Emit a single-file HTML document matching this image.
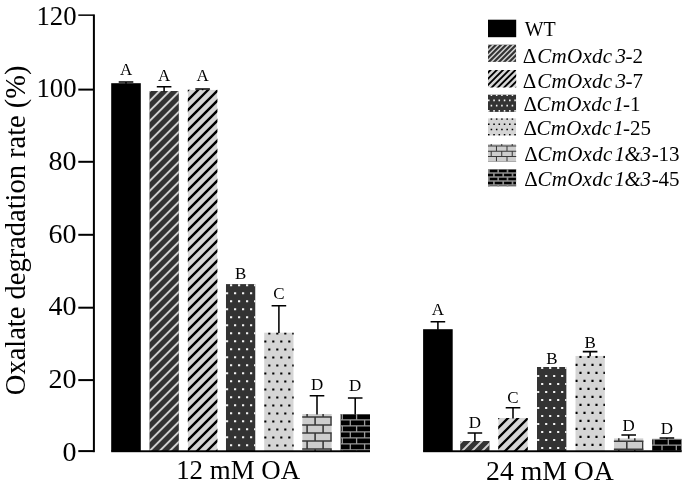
<!DOCTYPE html>
<html lang="en"><head><meta charset="utf-8"><title>Oxalate degradation rate</title>
<style>html,body{margin:0;padding:0;background:#fff}svg{display:block}text{font-family:'Liberation Serif', 'DejaVu Serif', serif;fill:#000}</style>
</head><body>
<svg width="683" height="485" viewBox="0 0 683 485">
<rect width="683" height="485" fill="#fff"/>
<rect x="111.2" y="83.2" width="29.6" height="368.1" fill="#000"/>
<path d="M126 83.7V82M118.7 82H133.3" stroke="#000" stroke-width="1.55" fill="none"/>
<text transform="translate(126 75.4) scale(0.97 1)" font-size="17.5" text-anchor="middle">A</text>
<clipPath id="c1"><rect x="149.30" y="91.00" width="29.60" height="360.30"/></clipPath>
<g clip-path="url(#c1)"><rect x="149.3" y="91" width="29.6" height="360.3" fill="#333333"/>
<path d="M147.3 83.3L180.9 49.7M147.3 93.3L180.9 59.7M147.3 103.3L180.9 69.7M147.3 113.3L180.9 79.7M147.3 123.3L180.9 89.7M147.3 133.3L180.9 99.7M147.3 143.3L180.9 109.7M147.3 153.3L180.9 119.7M147.3 163.3L180.9 129.7M147.3 173.3L180.9 139.7M147.3 183.3L180.9 149.7M147.3 193.3L180.9 159.7M147.3 203.3L180.9 169.7M147.3 213.3L180.9 179.7M147.3 223.3L180.9 189.7M147.3 233.3L180.9 199.7M147.3 243.3L180.9 209.7M147.3 253.3L180.9 219.7M147.3 263.3L180.9 229.7M147.3 273.3L180.9 239.7M147.3 283.3L180.9 249.7M147.3 293.3L180.9 259.7M147.3 303.3L180.9 269.7M147.3 313.3L180.9 279.7M147.3 323.3L180.9 289.7M147.3 333.3L180.9 299.7M147.3 343.3L180.9 309.7M147.3 353.3L180.9 319.7M147.3 363.3L180.9 329.7M147.3 373.3L180.9 339.7M147.3 383.3L180.9 349.7M147.3 393.3L180.9 359.7M147.3 403.3L180.9 369.7M147.3 413.3L180.9 379.7M147.3 423.3L180.9 389.7M147.3 433.3L180.9 399.7M147.3 443.3L180.9 409.7M147.3 453.3L180.9 419.7M147.3 463.3L180.9 429.7M147.3 473.3L180.9 439.7M147.3 483.3L180.9 449.7" stroke="#cfcfcf" stroke-width="2" fill="none"/></g>
<path d="M164.1 91.5V86.7M156.8 86.7H171.4" stroke="#000" stroke-width="1.55" fill="none"/>
<text transform="translate(164.1 81.4) scale(0.97 1)" font-size="17.5" text-anchor="middle">A</text>
<clipPath id="c2"><rect x="187.80" y="89.80" width="29.60" height="361.50"/></clipPath>
<g clip-path="url(#c2)"><rect x="187.8" y="89.8" width="29.6" height="361.5" fill="#d5d5d5"/>
<path d="M185.8 82.2L219.4 48.6M185.8 92.2L219.4 58.6M185.8 102.2L219.4 68.6M185.8 112.2L219.4 78.6M185.8 122.2L219.4 88.6M185.8 132.2L219.4 98.6M185.8 142.2L219.4 108.6M185.8 152.2L219.4 118.6M185.8 162.2L219.4 128.6M185.8 172.2L219.4 138.6M185.8 182.2L219.4 148.6M185.8 192.2L219.4 158.6M185.8 202.2L219.4 168.6M185.8 212.2L219.4 178.6M185.8 222.2L219.4 188.6M185.8 232.2L219.4 198.6M185.8 242.2L219.4 208.6M185.8 252.2L219.4 218.6M185.8 262.2L219.4 228.6M185.8 272.2L219.4 238.6M185.8 282.2L219.4 248.6M185.8 292.2L219.4 258.6M185.8 302.2L219.4 268.6M185.8 312.2L219.4 278.6M185.8 322.2L219.4 288.6M185.8 332.2L219.4 298.6M185.8 342.2L219.4 308.6M185.8 352.2L219.4 318.6M185.8 362.2L219.4 328.6M185.8 372.2L219.4 338.6M185.8 382.2L219.4 348.6M185.8 392.2L219.4 358.6M185.8 402.2L219.4 368.6M185.8 412.2L219.4 378.6M185.8 422.2L219.4 388.6M185.8 432.2L219.4 398.6M185.8 442.2L219.4 408.6M185.8 452.2L219.4 418.6M185.8 462.2L219.4 428.6M185.8 472.2L219.4 438.6M185.8 482.2L219.4 448.6M185.8 492.2L219.4 458.6" stroke="#000" stroke-width="2.3" fill="none"/></g>
<path d="M202.6 90.3V89M195.3 89H209.9" stroke="#000" stroke-width="1.55" fill="none"/>
<text transform="translate(202.6 81.4) scale(0.97 1)" font-size="17.5" text-anchor="middle">A</text>
<clipPath id="c3"><rect x="225.90" y="284.10" width="29.60" height="167.20"/></clipPath>
<g clip-path="url(#c3)"><rect x="225.9" y="284.1" width="29.6" height="167.2" fill="#333333"/>
<path d="M222.03 284.13h2.15v2.15h-2.15zM230.03 284.13h2.15v2.15h-2.15zM238.03 284.13h2.15v2.15h-2.15zM246.03 284.13h2.15v2.15h-2.15zM254.03 284.13h2.15v2.15h-2.15zM262.03 284.13h2.15v2.15h-2.15zM218.03 292.13h2.15v2.15h-2.15zM226.03 292.13h2.15v2.15h-2.15zM234.03 292.13h2.15v2.15h-2.15zM242.03 292.13h2.15v2.15h-2.15zM250.03 292.13h2.15v2.15h-2.15zM258.03 292.13h2.15v2.15h-2.15zM222.03 300.13h2.15v2.15h-2.15zM230.03 300.13h2.15v2.15h-2.15zM238.03 300.13h2.15v2.15h-2.15zM246.03 300.13h2.15v2.15h-2.15zM254.03 300.13h2.15v2.15h-2.15zM262.03 300.13h2.15v2.15h-2.15zM218.03 308.13h2.15v2.15h-2.15zM226.03 308.13h2.15v2.15h-2.15zM234.03 308.13h2.15v2.15h-2.15zM242.03 308.13h2.15v2.15h-2.15zM250.03 308.13h2.15v2.15h-2.15zM258.03 308.13h2.15v2.15h-2.15zM222.03 316.13h2.15v2.15h-2.15zM230.03 316.13h2.15v2.15h-2.15zM238.03 316.13h2.15v2.15h-2.15zM246.03 316.13h2.15v2.15h-2.15zM254.03 316.13h2.15v2.15h-2.15zM262.03 316.13h2.15v2.15h-2.15zM218.03 324.13h2.15v2.15h-2.15zM226.03 324.13h2.15v2.15h-2.15zM234.03 324.13h2.15v2.15h-2.15zM242.03 324.13h2.15v2.15h-2.15zM250.03 324.13h2.15v2.15h-2.15zM258.03 324.13h2.15v2.15h-2.15zM222.03 332.13h2.15v2.15h-2.15zM230.03 332.13h2.15v2.15h-2.15zM238.03 332.13h2.15v2.15h-2.15zM246.03 332.13h2.15v2.15h-2.15zM254.03 332.13h2.15v2.15h-2.15zM262.03 332.13h2.15v2.15h-2.15zM218.03 340.13h2.15v2.15h-2.15zM226.03 340.13h2.15v2.15h-2.15zM234.03 340.13h2.15v2.15h-2.15zM242.03 340.13h2.15v2.15h-2.15zM250.03 340.13h2.15v2.15h-2.15zM258.03 340.13h2.15v2.15h-2.15zM222.03 348.13h2.15v2.15h-2.15zM230.03 348.13h2.15v2.15h-2.15zM238.03 348.13h2.15v2.15h-2.15zM246.03 348.13h2.15v2.15h-2.15zM254.03 348.13h2.15v2.15h-2.15zM262.03 348.13h2.15v2.15h-2.15zM218.03 356.13h2.15v2.15h-2.15zM226.03 356.13h2.15v2.15h-2.15zM234.03 356.13h2.15v2.15h-2.15zM242.03 356.13h2.15v2.15h-2.15zM250.03 356.13h2.15v2.15h-2.15zM258.03 356.13h2.15v2.15h-2.15zM222.03 364.13h2.15v2.15h-2.15zM230.03 364.13h2.15v2.15h-2.15zM238.03 364.13h2.15v2.15h-2.15zM246.03 364.13h2.15v2.15h-2.15zM254.03 364.13h2.15v2.15h-2.15zM262.03 364.13h2.15v2.15h-2.15zM218.03 372.13h2.15v2.15h-2.15zM226.03 372.13h2.15v2.15h-2.15zM234.03 372.13h2.15v2.15h-2.15zM242.03 372.13h2.15v2.15h-2.15zM250.03 372.13h2.15v2.15h-2.15zM258.03 372.13h2.15v2.15h-2.15zM222.03 380.13h2.15v2.15h-2.15zM230.03 380.13h2.15v2.15h-2.15zM238.03 380.13h2.15v2.15h-2.15zM246.03 380.13h2.15v2.15h-2.15zM254.03 380.13h2.15v2.15h-2.15zM262.03 380.13h2.15v2.15h-2.15zM218.03 388.13h2.15v2.15h-2.15zM226.03 388.13h2.15v2.15h-2.15zM234.03 388.13h2.15v2.15h-2.15zM242.03 388.13h2.15v2.15h-2.15zM250.03 388.13h2.15v2.15h-2.15zM258.03 388.13h2.15v2.15h-2.15zM222.03 396.13h2.15v2.15h-2.15zM230.03 396.13h2.15v2.15h-2.15zM238.03 396.13h2.15v2.15h-2.15zM246.03 396.13h2.15v2.15h-2.15zM254.03 396.13h2.15v2.15h-2.15zM262.03 396.13h2.15v2.15h-2.15zM218.03 404.13h2.15v2.15h-2.15zM226.03 404.13h2.15v2.15h-2.15zM234.03 404.13h2.15v2.15h-2.15zM242.03 404.13h2.15v2.15h-2.15zM250.03 404.13h2.15v2.15h-2.15zM258.03 404.13h2.15v2.15h-2.15zM222.03 412.13h2.15v2.15h-2.15zM230.03 412.13h2.15v2.15h-2.15zM238.03 412.13h2.15v2.15h-2.15zM246.03 412.13h2.15v2.15h-2.15zM254.03 412.13h2.15v2.15h-2.15zM262.03 412.13h2.15v2.15h-2.15zM218.03 420.13h2.15v2.15h-2.15zM226.03 420.13h2.15v2.15h-2.15zM234.03 420.13h2.15v2.15h-2.15zM242.03 420.13h2.15v2.15h-2.15zM250.03 420.13h2.15v2.15h-2.15zM258.03 420.13h2.15v2.15h-2.15zM222.03 428.13h2.15v2.15h-2.15zM230.03 428.13h2.15v2.15h-2.15zM238.03 428.13h2.15v2.15h-2.15zM246.03 428.13h2.15v2.15h-2.15zM254.03 428.13h2.15v2.15h-2.15zM262.03 428.13h2.15v2.15h-2.15zM218.03 436.13h2.15v2.15h-2.15zM226.03 436.13h2.15v2.15h-2.15zM234.03 436.13h2.15v2.15h-2.15zM242.03 436.13h2.15v2.15h-2.15zM250.03 436.13h2.15v2.15h-2.15zM258.03 436.13h2.15v2.15h-2.15zM222.03 444.13h2.15v2.15h-2.15zM230.03 444.13h2.15v2.15h-2.15zM238.03 444.13h2.15v2.15h-2.15zM246.03 444.13h2.15v2.15h-2.15zM254.03 444.13h2.15v2.15h-2.15zM262.03 444.13h2.15v2.15h-2.15zM218.03 452.13h2.15v2.15h-2.15zM226.03 452.13h2.15v2.15h-2.15zM234.03 452.13h2.15v2.15h-2.15zM242.03 452.13h2.15v2.15h-2.15zM250.03 452.13h2.15v2.15h-2.15zM258.03 452.13h2.15v2.15h-2.15z" fill="#f4f4f4"/></g>
<text transform="translate(240.7 278.5) scale(0.97 1)" font-size="17.5" text-anchor="middle">B</text>
<clipPath id="c4"><rect x="264.10" y="332.40" width="29.60" height="118.90"/></clipPath>
<g clip-path="url(#c4)"><rect x="264.1" y="332.4" width="29.6" height="118.9" fill="#d5d5d5"/>
<path d="M260.23 332.43h2.15v2.15h-2.15zM268.23 332.43h2.15v2.15h-2.15zM276.23 332.43h2.15v2.15h-2.15zM284.23 332.43h2.15v2.15h-2.15zM292.23 332.43h2.15v2.15h-2.15zM300.23 332.43h2.15v2.15h-2.15zM256.23 340.43h2.15v2.15h-2.15zM264.23 340.43h2.15v2.15h-2.15zM272.23 340.43h2.15v2.15h-2.15zM280.23 340.43h2.15v2.15h-2.15zM288.23 340.43h2.15v2.15h-2.15zM296.23 340.43h2.15v2.15h-2.15zM260.23 348.43h2.15v2.15h-2.15zM268.23 348.43h2.15v2.15h-2.15zM276.23 348.43h2.15v2.15h-2.15zM284.23 348.43h2.15v2.15h-2.15zM292.23 348.43h2.15v2.15h-2.15zM300.23 348.43h2.15v2.15h-2.15zM256.23 356.43h2.15v2.15h-2.15zM264.23 356.43h2.15v2.15h-2.15zM272.23 356.43h2.15v2.15h-2.15zM280.23 356.43h2.15v2.15h-2.15zM288.23 356.43h2.15v2.15h-2.15zM296.23 356.43h2.15v2.15h-2.15zM260.23 364.43h2.15v2.15h-2.15zM268.23 364.43h2.15v2.15h-2.15zM276.23 364.43h2.15v2.15h-2.15zM284.23 364.43h2.15v2.15h-2.15zM292.23 364.43h2.15v2.15h-2.15zM300.23 364.43h2.15v2.15h-2.15zM256.23 372.43h2.15v2.15h-2.15zM264.23 372.43h2.15v2.15h-2.15zM272.23 372.43h2.15v2.15h-2.15zM280.23 372.43h2.15v2.15h-2.15zM288.23 372.43h2.15v2.15h-2.15zM296.23 372.43h2.15v2.15h-2.15zM260.23 380.43h2.15v2.15h-2.15zM268.23 380.43h2.15v2.15h-2.15zM276.23 380.43h2.15v2.15h-2.15zM284.23 380.43h2.15v2.15h-2.15zM292.23 380.43h2.15v2.15h-2.15zM300.23 380.43h2.15v2.15h-2.15zM256.23 388.43h2.15v2.15h-2.15zM264.23 388.43h2.15v2.15h-2.15zM272.23 388.43h2.15v2.15h-2.15zM280.23 388.43h2.15v2.15h-2.15zM288.23 388.43h2.15v2.15h-2.15zM296.23 388.43h2.15v2.15h-2.15zM260.23 396.43h2.15v2.15h-2.15zM268.23 396.43h2.15v2.15h-2.15zM276.23 396.43h2.15v2.15h-2.15zM284.23 396.43h2.15v2.15h-2.15zM292.23 396.43h2.15v2.15h-2.15zM300.23 396.43h2.15v2.15h-2.15zM256.23 404.43h2.15v2.15h-2.15zM264.23 404.43h2.15v2.15h-2.15zM272.23 404.43h2.15v2.15h-2.15zM280.23 404.43h2.15v2.15h-2.15zM288.23 404.43h2.15v2.15h-2.15zM296.23 404.43h2.15v2.15h-2.15zM260.23 412.43h2.15v2.15h-2.15zM268.23 412.43h2.15v2.15h-2.15zM276.23 412.43h2.15v2.15h-2.15zM284.23 412.43h2.15v2.15h-2.15zM292.23 412.43h2.15v2.15h-2.15zM300.23 412.43h2.15v2.15h-2.15zM256.23 420.43h2.15v2.15h-2.15zM264.23 420.43h2.15v2.15h-2.15zM272.23 420.43h2.15v2.15h-2.15zM280.23 420.43h2.15v2.15h-2.15zM288.23 420.43h2.15v2.15h-2.15zM296.23 420.43h2.15v2.15h-2.15zM260.23 428.43h2.15v2.15h-2.15zM268.23 428.43h2.15v2.15h-2.15zM276.23 428.43h2.15v2.15h-2.15zM284.23 428.43h2.15v2.15h-2.15zM292.23 428.43h2.15v2.15h-2.15zM300.23 428.43h2.15v2.15h-2.15zM256.23 436.43h2.15v2.15h-2.15zM264.23 436.43h2.15v2.15h-2.15zM272.23 436.43h2.15v2.15h-2.15zM280.23 436.43h2.15v2.15h-2.15zM288.23 436.43h2.15v2.15h-2.15zM296.23 436.43h2.15v2.15h-2.15zM260.23 444.43h2.15v2.15h-2.15zM268.23 444.43h2.15v2.15h-2.15zM276.23 444.43h2.15v2.15h-2.15zM284.23 444.43h2.15v2.15h-2.15zM292.23 444.43h2.15v2.15h-2.15zM300.23 444.43h2.15v2.15h-2.15zM256.23 452.43h2.15v2.15h-2.15zM264.23 452.43h2.15v2.15h-2.15zM272.23 452.43h2.15v2.15h-2.15zM280.23 452.43h2.15v2.15h-2.15zM288.23 452.43h2.15v2.15h-2.15zM296.23 452.43h2.15v2.15h-2.15z" fill="#000"/></g>
<path d="M278.9 332.9V305.7M271.6 305.7H286.2" stroke="#000" stroke-width="1.55" fill="none"/>
<text transform="translate(278.9 299) scale(0.97 1)" font-size="17.5" text-anchor="middle">C</text>
<clipPath id="c5"><rect x="302.20" y="414.00" width="29.60" height="37.30"/></clipPath>
<g clip-path="url(#c5)"><rect x="302.2" y="414" width="29.6" height="37.3" fill="#cdcdcd"/>
<path d="M301.2 409H332.8M291.1 409V417M307.1 409V417M323.1 409V417M339.1 409V417M301.2 417H332.8M299.1 417V425M315.1 417V425M331.1 417V425M347.1 417V425M301.2 425H332.8M291.1 425V433M307.1 425V433M323.1 425V433M339.1 425V433M301.2 433H332.8M299.1 433V441M315.1 433V441M331.1 433V441M347.1 433V441M301.2 441H332.8M291.1 441V449M307.1 441V449M323.1 441V449M339.1 441V449M301.2 449H332.8M299.1 449V457M315.1 449V457M331.1 449V457M347.1 449V457M301.2 457H332.8M291.1 457V465M307.1 457V465M323.1 457V465M339.1 457V465" stroke="#3a3a3a" stroke-width="1.6" fill="none"/></g>
<path d="M317 414.5V395.8M309.7 395.8H324.3" stroke="#000" stroke-width="1.55" fill="none"/>
<text transform="translate(317 389.6) scale(0.97 1)" font-size="17.5" text-anchor="middle">D</text>
<clipPath id="c6"><rect x="340.40" y="414.00" width="29.60" height="37.30"/></clipPath>
<g clip-path="url(#c6)"><rect x="340.4" y="414" width="29.6" height="37.3" fill="#000"/>
<path d="M339.4 413.9H371M328 413.9V419.9M342.3 413.9V419.9M356.6 413.9V419.9M370.9 413.9V419.9M339.4 419.9H371M336 419.9V425.9M350.3 419.9V425.9M364.6 419.9V425.9M378.9 419.9V425.9M339.4 425.9H371M328 425.9V431.9M342.3 425.9V431.9M356.6 425.9V431.9M370.9 425.9V431.9M339.4 431.9H371M336 431.9V437.9M350.3 431.9V437.9M364.6 431.9V437.9M378.9 431.9V437.9M339.4 437.9H371M328 437.9V443.9M342.3 437.9V443.9M356.6 437.9V443.9M370.9 437.9V443.9M339.4 443.9H371M336 443.9V449.9M350.3 443.9V449.9M364.6 443.9V449.9M378.9 443.9V449.9M339.4 449.9H371M328 449.9V455.9M342.3 449.9V455.9M356.6 449.9V455.9M370.9 449.9V455.9M339.4 455.9H371M336 455.9V461.9M350.3 455.9V461.9M364.6 455.9V461.9M378.9 455.9V461.9" stroke="#999999" stroke-width="1.3" fill="none"/></g>
<path d="M355.2 414.5V397.9M347.9 397.9H362.5" stroke="#000" stroke-width="1.55" fill="none"/>
<text transform="translate(355.2 391.1) scale(0.97 1)" font-size="17.5" text-anchor="middle">D</text>
<rect x="111.2" y="450.3" width="258.8" height="1.9" fill="#000"/>
<rect x="423.1" y="329.2" width="29.6" height="122.1" fill="#000"/>
<path d="M437.9 329.7V321.7M430.6 321.7H445.2" stroke="#000" stroke-width="1.55" fill="none"/>
<text transform="translate(437.9 315.4) scale(0.97 1)" font-size="17.5" text-anchor="middle">A</text>
<clipPath id="c7"><rect x="460.10" y="441.00" width="29.60" height="10.30"/></clipPath>
<g clip-path="url(#c7)"><rect x="460.1" y="441" width="29.6" height="10.3" fill="#333333"/>
<path d="M458.1 435L491.7 401.4M458.1 445L491.7 411.4M458.1 455L491.7 421.4M458.1 465L491.7 431.4M458.1 475L491.7 441.4M458.1 485L491.7 451.4" stroke="#cfcfcf" stroke-width="2" fill="none"/></g>
<path d="M474.9 441.5V432.9M467.6 432.9H482.2" stroke="#000" stroke-width="1.55" fill="none"/>
<text transform="translate(474.9 427.9) scale(0.97 1)" font-size="17.5" text-anchor="middle">D</text>
<clipPath id="c8"><rect x="498.20" y="418.00" width="29.60" height="33.30"/></clipPath>
<g clip-path="url(#c8)"><rect x="498.2" y="418" width="29.6" height="33.3" fill="#d5d5d5"/>
<path d="M496.2 419.9L529.8 386.3M496.2 429.9L529.8 396.3M496.2 439.9L529.8 406.3M496.2 449.9L529.8 416.3M496.2 459.9L529.8 426.3M496.2 469.9L529.8 436.3M496.2 479.9L529.8 446.3M496.2 489.9L529.8 456.3" stroke="#000" stroke-width="2.3" fill="none"/></g>
<path d="M513 418.5V407.8M505.7 407.8H520.3" stroke="#000" stroke-width="1.55" fill="none"/>
<text transform="translate(513 403.2) scale(0.97 1)" font-size="17.5" text-anchor="middle">C</text>
<clipPath id="c9"><rect x="537.00" y="366.90" width="29.60" height="84.40"/></clipPath>
<g clip-path="url(#c9)"><rect x="537" y="366.9" width="29.6" height="84.4" fill="#333333"/>
<path d="M533.12 366.93h2.15v2.15h-2.15zM541.12 366.93h2.15v2.15h-2.15zM549.12 366.93h2.15v2.15h-2.15zM557.12 366.93h2.15v2.15h-2.15zM565.12 366.93h2.15v2.15h-2.15zM573.12 366.93h2.15v2.15h-2.15zM529.12 374.93h2.15v2.15h-2.15zM537.12 374.93h2.15v2.15h-2.15zM545.12 374.93h2.15v2.15h-2.15zM553.12 374.93h2.15v2.15h-2.15zM561.12 374.93h2.15v2.15h-2.15zM569.12 374.93h2.15v2.15h-2.15zM533.12 382.93h2.15v2.15h-2.15zM541.12 382.93h2.15v2.15h-2.15zM549.12 382.93h2.15v2.15h-2.15zM557.12 382.93h2.15v2.15h-2.15zM565.12 382.93h2.15v2.15h-2.15zM573.12 382.93h2.15v2.15h-2.15zM529.12 390.93h2.15v2.15h-2.15zM537.12 390.93h2.15v2.15h-2.15zM545.12 390.93h2.15v2.15h-2.15zM553.12 390.93h2.15v2.15h-2.15zM561.12 390.93h2.15v2.15h-2.15zM569.12 390.93h2.15v2.15h-2.15zM533.12 398.93h2.15v2.15h-2.15zM541.12 398.93h2.15v2.15h-2.15zM549.12 398.93h2.15v2.15h-2.15zM557.12 398.93h2.15v2.15h-2.15zM565.12 398.93h2.15v2.15h-2.15zM573.12 398.93h2.15v2.15h-2.15zM529.12 406.93h2.15v2.15h-2.15zM537.12 406.93h2.15v2.15h-2.15zM545.12 406.93h2.15v2.15h-2.15zM553.12 406.93h2.15v2.15h-2.15zM561.12 406.93h2.15v2.15h-2.15zM569.12 406.93h2.15v2.15h-2.15zM533.12 414.93h2.15v2.15h-2.15zM541.12 414.93h2.15v2.15h-2.15zM549.12 414.93h2.15v2.15h-2.15zM557.12 414.93h2.15v2.15h-2.15zM565.12 414.93h2.15v2.15h-2.15zM573.12 414.93h2.15v2.15h-2.15zM529.12 422.93h2.15v2.15h-2.15zM537.12 422.93h2.15v2.15h-2.15zM545.12 422.93h2.15v2.15h-2.15zM553.12 422.93h2.15v2.15h-2.15zM561.12 422.93h2.15v2.15h-2.15zM569.12 422.93h2.15v2.15h-2.15zM533.12 430.93h2.15v2.15h-2.15zM541.12 430.93h2.15v2.15h-2.15zM549.12 430.93h2.15v2.15h-2.15zM557.12 430.93h2.15v2.15h-2.15zM565.12 430.93h2.15v2.15h-2.15zM573.12 430.93h2.15v2.15h-2.15zM529.12 438.93h2.15v2.15h-2.15zM537.12 438.93h2.15v2.15h-2.15zM545.12 438.93h2.15v2.15h-2.15zM553.12 438.93h2.15v2.15h-2.15zM561.12 438.93h2.15v2.15h-2.15zM569.12 438.93h2.15v2.15h-2.15zM533.12 446.93h2.15v2.15h-2.15zM541.12 446.93h2.15v2.15h-2.15zM549.12 446.93h2.15v2.15h-2.15zM557.12 446.93h2.15v2.15h-2.15zM565.12 446.93h2.15v2.15h-2.15zM573.12 446.93h2.15v2.15h-2.15zM529.12 454.93h2.15v2.15h-2.15zM537.12 454.93h2.15v2.15h-2.15zM545.12 454.93h2.15v2.15h-2.15zM553.12 454.93h2.15v2.15h-2.15zM561.12 454.93h2.15v2.15h-2.15zM569.12 454.93h2.15v2.15h-2.15z" fill="#f4f4f4"/></g>
<text transform="translate(551.8 363.6) scale(0.97 1)" font-size="17.5" text-anchor="middle">B</text>
<clipPath id="c10"><rect x="575.30" y="355.80" width="29.60" height="95.50"/></clipPath>
<g clip-path="url(#c10)"><rect x="575.3" y="355.8" width="29.6" height="95.5" fill="#d5d5d5"/>
<path d="M571.42 355.83h2.15v2.15h-2.15zM579.42 355.83h2.15v2.15h-2.15zM587.42 355.83h2.15v2.15h-2.15zM595.42 355.83h2.15v2.15h-2.15zM603.42 355.83h2.15v2.15h-2.15zM611.42 355.83h2.15v2.15h-2.15zM567.42 363.83h2.15v2.15h-2.15zM575.42 363.83h2.15v2.15h-2.15zM583.42 363.83h2.15v2.15h-2.15zM591.42 363.83h2.15v2.15h-2.15zM599.42 363.83h2.15v2.15h-2.15zM607.42 363.83h2.15v2.15h-2.15zM571.42 371.83h2.15v2.15h-2.15zM579.42 371.83h2.15v2.15h-2.15zM587.42 371.83h2.15v2.15h-2.15zM595.42 371.83h2.15v2.15h-2.15zM603.42 371.83h2.15v2.15h-2.15zM611.42 371.83h2.15v2.15h-2.15zM567.42 379.83h2.15v2.15h-2.15zM575.42 379.83h2.15v2.15h-2.15zM583.42 379.83h2.15v2.15h-2.15zM591.42 379.83h2.15v2.15h-2.15zM599.42 379.83h2.15v2.15h-2.15zM607.42 379.83h2.15v2.15h-2.15zM571.42 387.83h2.15v2.15h-2.15zM579.42 387.83h2.15v2.15h-2.15zM587.42 387.83h2.15v2.15h-2.15zM595.42 387.83h2.15v2.15h-2.15zM603.42 387.83h2.15v2.15h-2.15zM611.42 387.83h2.15v2.15h-2.15zM567.42 395.83h2.15v2.15h-2.15zM575.42 395.83h2.15v2.15h-2.15zM583.42 395.83h2.15v2.15h-2.15zM591.42 395.83h2.15v2.15h-2.15zM599.42 395.83h2.15v2.15h-2.15zM607.42 395.83h2.15v2.15h-2.15zM571.42 403.83h2.15v2.15h-2.15zM579.42 403.83h2.15v2.15h-2.15zM587.42 403.83h2.15v2.15h-2.15zM595.42 403.83h2.15v2.15h-2.15zM603.42 403.83h2.15v2.15h-2.15zM611.42 403.83h2.15v2.15h-2.15zM567.42 411.83h2.15v2.15h-2.15zM575.42 411.83h2.15v2.15h-2.15zM583.42 411.83h2.15v2.15h-2.15zM591.42 411.83h2.15v2.15h-2.15zM599.42 411.83h2.15v2.15h-2.15zM607.42 411.83h2.15v2.15h-2.15zM571.42 419.83h2.15v2.15h-2.15zM579.42 419.83h2.15v2.15h-2.15zM587.42 419.83h2.15v2.15h-2.15zM595.42 419.83h2.15v2.15h-2.15zM603.42 419.83h2.15v2.15h-2.15zM611.42 419.83h2.15v2.15h-2.15zM567.42 427.83h2.15v2.15h-2.15zM575.42 427.83h2.15v2.15h-2.15zM583.42 427.83h2.15v2.15h-2.15zM591.42 427.83h2.15v2.15h-2.15zM599.42 427.83h2.15v2.15h-2.15zM607.42 427.83h2.15v2.15h-2.15zM571.42 435.83h2.15v2.15h-2.15zM579.42 435.83h2.15v2.15h-2.15zM587.42 435.83h2.15v2.15h-2.15zM595.42 435.83h2.15v2.15h-2.15zM603.42 435.83h2.15v2.15h-2.15zM611.42 435.83h2.15v2.15h-2.15zM567.42 443.83h2.15v2.15h-2.15zM575.42 443.83h2.15v2.15h-2.15zM583.42 443.83h2.15v2.15h-2.15zM591.42 443.83h2.15v2.15h-2.15zM599.42 443.83h2.15v2.15h-2.15zM607.42 443.83h2.15v2.15h-2.15zM571.42 451.83h2.15v2.15h-2.15zM579.42 451.83h2.15v2.15h-2.15zM587.42 451.83h2.15v2.15h-2.15zM595.42 451.83h2.15v2.15h-2.15zM603.42 451.83h2.15v2.15h-2.15zM611.42 451.83h2.15v2.15h-2.15z" fill="#000"/></g>
<path d="M590.1 356.3V351.6M582.8 351.6H597.4" stroke="#000" stroke-width="1.55" fill="none"/>
<text transform="translate(590.1 347.5) scale(0.97 1)" font-size="17.5" text-anchor="middle">B</text>
<clipPath id="c11"><rect x="613.90" y="438.20" width="29.60" height="13.10"/></clipPath>
<g clip-path="url(#c11)"><rect x="613.9" y="438.2" width="29.6" height="13.1" fill="#cdcdcd"/>
<path d="M612.9 433.2H644.5M602.8 433.2V441.2M618.8 433.2V441.2M634.8 433.2V441.2M650.8 433.2V441.2M612.9 441.2H644.5M610.8 441.2V449.2M626.8 441.2V449.2M642.8 441.2V449.2M658.8 441.2V449.2M612.9 449.2H644.5M602.8 449.2V457.2M618.8 449.2V457.2M634.8 449.2V457.2M650.8 449.2V457.2M612.9 457.2H644.5M610.8 457.2V465.2M626.8 457.2V465.2M642.8 457.2V465.2M658.8 457.2V465.2" stroke="#3a3a3a" stroke-width="1.6" fill="none"/></g>
<path d="M628.7 438.7V434.9M621.4 434.9H636" stroke="#000" stroke-width="1.55" fill="none"/>
<text transform="translate(628.7 431) scale(0.97 1)" font-size="17.5" text-anchor="middle">D</text>
<clipPath id="c12"><rect x="652.10" y="438.80" width="29.60" height="12.50"/></clipPath>
<g clip-path="url(#c12)"><rect x="652.1" y="438.8" width="29.6" height="12.5" fill="#000"/>
<path d="M651.1 439.2H682.7M639.7 439.2V445.2M654 439.2V445.2M668.3 439.2V445.2M682.6 439.2V445.2M651.1 445.2H682.7M647.7 445.2V451.2M662 445.2V451.2M676.3 445.2V451.2M690.6 445.2V451.2M651.1 451.2H682.7M639.7 451.2V457.2M654 451.2V457.2M668.3 451.2V457.2M682.6 451.2V457.2M651.1 457.2H682.7M647.7 457.2V463.2M662 457.2V463.2M676.3 457.2V463.2M690.6 457.2V463.2" stroke="#999999" stroke-width="1.3" fill="none"/></g>
<path d="M666.9 439.3V437.9M659.6 437.9H674.2" stroke="#000" stroke-width="1.55" fill="none"/>
<text transform="translate(666.9 434.1) scale(0.97 1)" font-size="17.5" text-anchor="middle">D</text>
<rect x="423.1" y="450.3" width="258.6" height="1.9" fill="#000"/>
<rect x="92.9" y="14.4" width="2" height="437.8" fill="#000"/>
<rect x="78.3" y="14.4" width="15" height="1.5" fill="#000"/>
<text transform="translate(76.6 25.1) scale(0.956 1)" font-size="28" text-anchor="end">120</text>
<rect x="78.3" y="88.6" width="15" height="2" fill="#000"/>
<text transform="translate(76.6 97.35) scale(0.956 1)" font-size="28" text-anchor="end">100</text>
<rect x="78.3" y="160.8" width="15" height="2" fill="#000"/>
<text transform="translate(76.6 169.9)" font-size="28" text-anchor="end">80</text>
<rect x="78.3" y="233.8" width="15" height="2" fill="#000"/>
<text transform="translate(76.6 242.5)" font-size="28" text-anchor="end">60</text>
<rect x="78.3" y="306.7" width="15" height="2" fill="#000"/>
<text transform="translate(76.6 315.1)" font-size="28" text-anchor="end">40</text>
<rect x="78.3" y="379.1" width="15" height="2" fill="#000"/>
<text transform="translate(76.6 387.8)" font-size="28" text-anchor="end">20</text>
<rect x="78.3" y="450.1" width="15" height="2" fill="#000"/>
<text transform="translate(76.6 460.5)" font-size="28" text-anchor="end">0</text>
<text transform="translate(25.3 230.3) rotate(-90) scale(1 1.01)" font-size="28.5" text-anchor="middle">Oxalate degradation rate (%)</text>
<text transform="translate(238.1 479.4) scale(0.96 1)" font-size="28" text-anchor="middle">12 mM OA</text>
<text transform="translate(549.95 480.2) scale(0.99 1)" font-size="28" text-anchor="middle">24 mM OA</text>
<rect x="488" y="19.7" width="28.2" height="17.5" fill="#000"/>
<text transform="translate(524.8 35.7) scale(0.95 1)" font-size="21">WT</text>
<clipPath id="c13"><rect x="488.00" y="44.40" width="28.20" height="17.50"/></clipPath>
<g clip-path="url(#c13)"><rect x="488" y="44.4" width="28.2" height="17.5" fill="#333333"/>
<path d="M486 41.9L518.2 9.7M486 47L518.2 14.8M486 52.1L518.2 19.9M486 57.2L518.2 25M486 62.3L518.2 30.1M486 67.4L518.2 35.2M486 72.5L518.2 40.3M486 77.6L518.2 45.4M486 82.7L518.2 50.5M486 87.8L518.2 55.6M486 92.9L518.2 60.7" stroke="#cfcfcf" stroke-width="1.5" fill="none"/></g>
<text transform="translate(522.8 63.4)" font-size="21">Δ<tspan font-style="italic" dx="1.0" letter-spacing="0.25">CmOxdc</tspan><tspan font-style="italic" dx="3.3">3</tspan><tspan dx="-0.5">-2</tspan></text>
<clipPath id="c14"><rect x="488.00" y="70.00" width="28.20" height="17.50"/></clipPath>
<g clip-path="url(#c14)"><rect x="488" y="70" width="28.2" height="17.5" fill="#d5d5d5"/>
<path d="M486 68.4L518.2 36.2M486 74.6L518.2 42.4M486 80.8L518.2 48.6M486 87L518.2 54.8M486 93.2L518.2 61M486 99.4L518.2 67.2M486 105.6L518.2 73.4M486 111.8L518.2 79.6M486 118L518.2 85.8" stroke="#000" stroke-width="1.85" fill="none"/></g>
<text transform="translate(522.8 87.7)" font-size="21">Δ<tspan font-style="italic" dx="1.0" letter-spacing="0.25">CmOxdc</tspan><tspan font-style="italic" dx="3.3">3</tspan><tspan dx="-0.5">-7</tspan></text>
<clipPath id="c15"><rect x="488.00" y="94.40" width="28.20" height="17.50"/></clipPath>
<g clip-path="url(#c15)"><rect x="488" y="94.4" width="28.2" height="17.5" fill="#333333"/>
<path d="M485.38 94.35h1.55v1.55h-1.55zM490.64 94.35h1.55v1.55h-1.55zM495.9 94.35h1.55v1.55h-1.55zM501.15 94.35h1.55v1.55h-1.55zM506.41 94.35h1.55v1.55h-1.55zM511.66 94.35h1.55v1.55h-1.55zM516.92 94.35h1.55v1.55h-1.55zM482.76 99.6h1.55v1.55h-1.55zM488.01 99.6h1.55v1.55h-1.55zM493.27 99.6h1.55v1.55h-1.55zM498.52 99.6h1.55v1.55h-1.55zM503.78 99.6h1.55v1.55h-1.55zM509.04 99.6h1.55v1.55h-1.55zM514.29 99.6h1.55v1.55h-1.55zM519.55 99.6h1.55v1.55h-1.55zM485.38 104.86h1.55v1.55h-1.55zM490.64 104.86h1.55v1.55h-1.55zM495.9 104.86h1.55v1.55h-1.55zM501.15 104.86h1.55v1.55h-1.55zM506.41 104.86h1.55v1.55h-1.55zM511.66 104.86h1.55v1.55h-1.55zM516.92 104.86h1.55v1.55h-1.55zM482.76 110.11h1.55v1.55h-1.55zM488.01 110.11h1.55v1.55h-1.55zM493.27 110.11h1.55v1.55h-1.55zM498.52 110.11h1.55v1.55h-1.55zM503.78 110.11h1.55v1.55h-1.55zM509.04 110.11h1.55v1.55h-1.55zM514.29 110.11h1.55v1.55h-1.55zM519.55 110.11h1.55v1.55h-1.55zM485.38 115.37h1.55v1.55h-1.55zM490.64 115.37h1.55v1.55h-1.55zM495.9 115.37h1.55v1.55h-1.55zM501.15 115.37h1.55v1.55h-1.55zM506.41 115.37h1.55v1.55h-1.55zM511.66 115.37h1.55v1.55h-1.55zM516.92 115.37h1.55v1.55h-1.55z" fill="#f4f4f4"/></g>
<text transform="translate(523.6 110.8)" font-size="21">Δ<tspan font-style="italic" dx="-0.5" letter-spacing="0.25">CmOxdc</tspan><tspan font-style="italic" dx="1.6">1</tspan><tspan dx="-0.6">-1</tspan></text>
<clipPath id="c16"><rect x="488.00" y="118.20" width="28.20" height="17.50"/></clipPath>
<g clip-path="url(#c16)"><rect x="488" y="118.2" width="28.2" height="17.5" fill="#d5d5d5"/>
<path d="M485.38 118.15h1.55v1.55h-1.55zM490.64 118.15h1.55v1.55h-1.55zM495.9 118.15h1.55v1.55h-1.55zM501.15 118.15h1.55v1.55h-1.55zM506.41 118.15h1.55v1.55h-1.55zM511.66 118.15h1.55v1.55h-1.55zM516.92 118.15h1.55v1.55h-1.55zM482.76 123.4h1.55v1.55h-1.55zM488.01 123.4h1.55v1.55h-1.55zM493.27 123.4h1.55v1.55h-1.55zM498.52 123.4h1.55v1.55h-1.55zM503.78 123.4h1.55v1.55h-1.55zM509.04 123.4h1.55v1.55h-1.55zM514.29 123.4h1.55v1.55h-1.55zM519.55 123.4h1.55v1.55h-1.55zM485.38 128.66h1.55v1.55h-1.55zM490.64 128.66h1.55v1.55h-1.55zM495.9 128.66h1.55v1.55h-1.55zM501.15 128.66h1.55v1.55h-1.55zM506.41 128.66h1.55v1.55h-1.55zM511.66 128.66h1.55v1.55h-1.55zM516.92 128.66h1.55v1.55h-1.55zM482.76 133.91h1.55v1.55h-1.55zM488.01 133.91h1.55v1.55h-1.55zM493.27 133.91h1.55v1.55h-1.55zM498.52 133.91h1.55v1.55h-1.55zM503.78 133.91h1.55v1.55h-1.55zM509.04 133.91h1.55v1.55h-1.55zM514.29 133.91h1.55v1.55h-1.55zM519.55 133.91h1.55v1.55h-1.55zM485.38 139.17h1.55v1.55h-1.55zM490.64 139.17h1.55v1.55h-1.55zM495.9 139.17h1.55v1.55h-1.55zM501.15 139.17h1.55v1.55h-1.55zM506.41 139.17h1.55v1.55h-1.55zM511.66 139.17h1.55v1.55h-1.55zM516.92 139.17h1.55v1.55h-1.55z" fill="#000"/></g>
<text transform="translate(523.6 135.4)" font-size="21">Δ<tspan font-style="italic" dx="-0.5" letter-spacing="0.25">CmOxdc</tspan><tspan font-style="italic" dx="1.6">1</tspan><tspan dx="-0.6">-25</tspan></text>
<clipPath id="c17"><rect x="488.00" y="144.10" width="28.20" height="17.50"/></clipPath>
<g clip-path="url(#c17)"><rect x="488" y="144.1" width="28.2" height="17.5" fill="#cdcdcd"/>
<path d="M487 140.81H517.2M480.71 140.81V146.07M491.22 140.81V146.07M501.73 140.81V146.07M512.24 140.81V146.07M522.76 140.81V146.07M487 146.07H517.2M485.96 146.07V151.33M496.48 146.07V151.33M506.99 146.07V151.33M517.5 146.07V151.33M487 151.33H517.2M480.71 151.33V156.58M491.22 151.33V156.58M501.73 151.33V156.58M512.24 151.33V156.58M522.76 151.33V156.58M487 156.58H517.2M485.96 156.58V161.84M496.48 156.58V161.84M506.99 156.58V161.84M517.5 156.58V161.84M487 161.84H517.2M480.71 161.84V167.09M491.22 161.84V167.09M501.73 161.84V167.09M512.24 161.84V167.09M522.76 161.84V167.09" stroke="#3a3a3a" stroke-width="1.05" fill="none"/></g>
<text transform="translate(524.3 161.4)" font-size="21">Δ<tspan font-style="italic" dx="-0.3" letter-spacing="0.25">CmOxdc</tspan><tspan font-style="italic" dx="2.0" letter-spacing="-0.4">1&amp;3</tspan><tspan dx="1.0">-13</tspan></text>
<clipPath id="c18"><rect x="488.00" y="169.00" width="28.20" height="17.50"/></clipPath>
<g clip-path="url(#c18)"><rect x="488" y="169" width="28.2" height="17.5" fill="#000"/>
<path d="M487 169H517.2M479.6 169V173M488.9 169V173M498.2 169V173M507.5 169V173M516.8 169V173M487 173H517.2M484.6 173V177M493.9 173V177M503.2 173V177M512.5 173V177M521.8 173V177M487 177H517.2M479.6 177V181M488.9 177V181M498.2 177V181M507.5 177V181M516.8 177V181M487 181H517.2M484.6 181V185M493.9 181V185M503.2 181V185M512.5 181V185M521.8 181V185M487 185H517.2M479.6 185V189M488.9 185V189M498.2 185V189M507.5 185V189M516.8 185V189M487 189H517.2M484.6 189V193M493.9 189V193M503.2 189V193M512.5 189V193M521.8 189V193" stroke="#8e8e8e" stroke-width="1.7" fill="none"/></g>
<text transform="translate(524.3 185.7)" font-size="21">Δ<tspan font-style="italic" dx="-0.3" letter-spacing="0.25">CmOxdc</tspan><tspan font-style="italic" dx="2.0" letter-spacing="-0.4">1&amp;3</tspan><tspan dx="1.0">-45</tspan></text>
</svg>
</body></html>
